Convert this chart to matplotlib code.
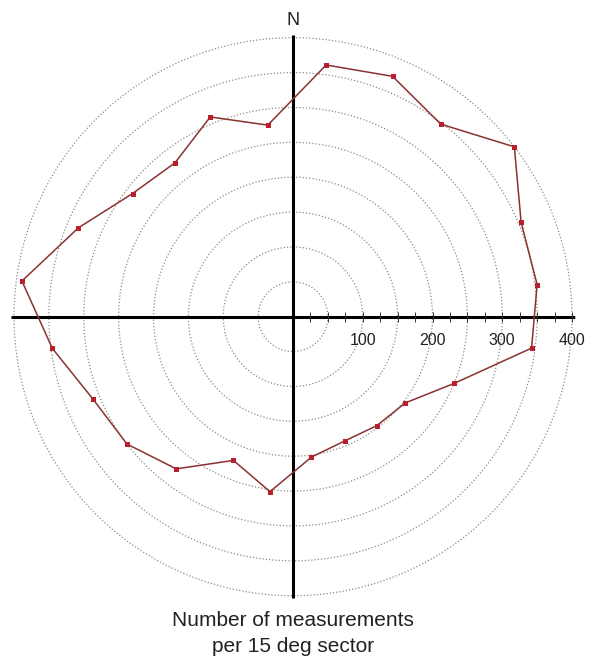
import numpy as np
import matplotlib
matplotlib.use("Agg")
import matplotlib.pyplot as plt

plt.rcParams["font.family"] = ["Liberation Sans", "DejaVu Sans"]

# measurement counts per 15 deg sector, clockwise from north (sector centres)
sector_deg = [7.5, 22.5, 37.5, 52.5, 67.5, 82.5, 97.5, 112.5, 127.5, 142.5, 157.5, 172.5,
              187.5, 202.5, 217.5, 232.5, 247.5, 262.5, 277.5, 292.5, 307.5, 322.5, 337.5, 352.5]
counts = [364, 373, 348, 400, 354, 353, 345, 250, 203, 197, 193, 203,
          253, 223, 275, 300, 310, 348, 392, 333, 290, 278, 310, 277]

rings = [50, 100, 150, 200, 250, 300, 350, 400]
scale_labels = [100, 200, 300, 400]
scale_ticks = list(range(25, 401, 25))

RMAX = 405
W, H = 595, 659
cx, cy = 293, 316.7
rad_px = 279 / 400 * RMAX

fig = plt.figure(figsize=(W / 100, H / 100), dpi=100)
ax = fig.add_axes([(cx - rad_px) / W, (H - cy - rad_px) / H, 2 * rad_px / W, 2 * rad_px / H],
                  projection="polar")
ax.set_theta_zero_location("N")
ax.set_theta_direction(-1)
ax.set_ylim(0, RMAX)
ax.patch.set_visible(False)
ax.spines["polar"].set_visible(False)
ax.set_xticks([])
ax.set_rgrids(rings, labels=[""] * len(rings))
ax.yaxis.grid(True, color="#8c8c8c", linestyle=(0, (1, 1.6)), linewidth=0.9)
ax.xaxis.grid(False)

# compass cross through the centre
for t in [0, np.pi / 2, np.pi, 3 * np.pi / 2]:
    ax.plot([t, t], [0, RMAX - 1], color="black", linewidth=2.2, solid_capstyle="butt", zorder=3)

# scale ticks along the east arm
ax.plot([np.pi / 2] * len(scale_ticks), scale_ticks, linestyle="none", marker="|",
        markersize=7, markeredgewidth=0.7, color="#333333", zorder=3)
for v in scale_labels:
    ax.annotate(str(v), xy=(np.pi / 2, v), xytext=(0, -24), textcoords="offset pixels",
                ha="center", va="center", fontsize=11.5, color="#222222")

# rose line
theta = np.deg2rad(sector_deg + sector_deg[:1])
r = counts + counts[:1]
ax.plot(theta, r, color="#8a3232", linewidth=1.1, zorder=4)
ax.plot(np.deg2rad(sector_deg), counts, linestyle="none", marker="s", markersize=3.6,
        markeredgewidth=0, color="#b8202e", zorder=5)

ax.text(0, 425, "N", ha="center", va="center", fontsize=13, color="#222222")

fig.text(cx / W, 1 - 620 / H, "Number of measurements", ha="center", va="center",
         fontsize=15, color="#222222")
fig.text(cx / W, 1 - 647 / H, "per 15 deg sector", ha="center", va="center",
         fontsize=15, color="#222222")

fig.savefig("out.png", dpi=100)
